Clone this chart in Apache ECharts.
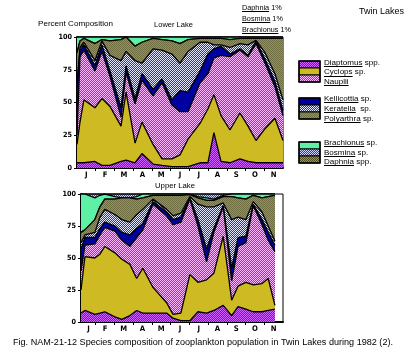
<!DOCTYPE html>
<html lang="en">
<head>
    <meta charset="UTF-8">
    <title>Twin Lakes zooplankton composition</title>
    <script src="https://cdn.jsdelivr.net/npm/echarts@6/dist/echarts.min.js"></script>
    <style>
        html, body { margin: 0; padding: 0; background: #fff; }
        #main { width: 416px; height: 354px; }
    </style>
</head>
<body>
<div id="main"></div>
<script>
// sampling dates in months (0 = 1 Jan, 11 = end of Nov), percent of each group
var monthLetters = ['J', 'F', 'M', 'A', 'M', 'J', 'J', 'A', 'S', 'O', 'N'];

var lowerMonths      = [0, 0.16, 0.37, 0.96, 1.33, 1.76, 2.35, 2.62, 3.10, 3.47, 4.06, 4.54, 5.07, 5.50, 5.93, 6.57, 6.99, 7.31, 7.69, 8.17, 8.70, 9.13, 9.56, 10.04, 10.57, 11.0];
var lowerDiaptomus   = [4, 4, 4, 5, 2, 2, 5, 6, 4, 11, 3, 2, 1, 1, 1, 4, 4, 27, 5, 4, 7, 5, 4, 4, 4, 4];
var lowerCyclops     = [14, 31, 48, 41, 51, 45, 27, 52, 15, 24, 15, 5, 6, 9, 21, 30, 41, 29, 35, 25, 35, 27, 17, 26, 34, 17];
var lowerNauplii     = [7, 50, 38, 28, 36, 23, 7, 15, 30, 32, 37, 58, 41, 33, 21, 31, 27, 28, 46, 56, 48, 53, 74, 50, 24, 19];
var lowerKellicottia = [37, 5, 4, 4, 5, 4, 7, 5, 4, 5, 5, 3, 4, 16, 15, 9, 15, 7, 7, 2, 1, 1, 2, 3, 4, 4];
var lowerKeratella   = [2, 2, 2, 4, 3, 12, 36, 11, 29, 8, 31, 22, 35, 21, 31, 22, 9, 3, 1, 5, 4, 8, 0.5, 5, 6, 8];
var lowerPolyarthra  = [24, 5, 3, 13, 1, 11, 16, 11, 11, 16, 8, 8, 10, 15, 9, 3, 3, 5, 5, 6, 4, 5, 1.5, 11, 27, 47];
var lowerDaphnia     = [0, 0, 0, 0, 0, 0, 0, 0, 0, 0, 0, 0, 0, 0, 0, 0, 0, 0, 0, 0, 0, 0, 0, 0, 0, 0];
var lowerBrachionus  = [12, 3, 1, 5, 2, 3, 2, 0, 7, 4, 1, 2, 3, 5, 2, 1, 1, 1, 1, 2, 1, 1, 1, 1, 1, 1];
var lowerBosmina     = [0, 0, 0, 0, 0, 0, 0, 0, 0, 0, 0, 0, 0, 0, 0, 0, 0, 0, 0, 0, 0, 0, 0, 0, 0, 0];

var upperMonths      = [0.22, 0.43, 0.96, 1.23, 1.49, 2.03, 2.40, 2.83, 3.19, 3.52, 4.06, 4.79, 5.13, 5.55, 6.03, 6.46, 6.92, 7.31, 7.81, 8.26, 8.60, 9.02, 9.41, 9.88, 10.21, 10.57];
var upperDiaptomus   = [7, 9, 6, 7, 8, 4, 2, 5, 9, 7, 7, 7, 3, 1, 1, 8, 7, 9, 13, 5, 12, 10, 8, 8, 9, 10];
var upperCyclops     = [18, 42, 44, 46, 51, 50, 47, 40, 25, 35, 20, 8, 3, 6, 36, 23, 26, 29, 54, 12, 16, 21, 21, 22, 25, 3];
var upperNauplii     = [15, 9, 11, 15, 15, 17, 15, 14, 32, 30, 65, 68, 70, 71, 59, 44, 14, 32, 23, 15, 31, 31, 62, 46, 30, 42];
var upperKellicottia = [17, 6, 5, 5, 4, 4, 6, 9, 7, 5, 2, 3, 4, 4, 1, 5, 10, 3, 1, 10, 7, 5, 1, 4, 6, 5];
var upperKeratella   = [5, 2, 4, 9, 10, 9, 10, 10, 11, 11, 2, 2, 3, 3, 1, 12, 33, 17, 2, 38, 16, 13, 2, 6, 5, 3];
var upperPolyarthra  = [8, 4, 10, 8, 8, 12, 17, 19, 12, 9, 3, 11, 16, 14, 1.5, 5, 5, 5, 5, 18, 15, 16, 5, 11, 23, 36];
var upperDaphnia     = [0, 0, 0, 0, 0, 0, 0, 0, 0, 0, 0, 0, 0, 0, 0, 0, 0, 0, 0, 0, 0, 0, 0, 0, 0, 0];
var upperBrachionus  = [30, 28, 17, 9, 4, 2, 0, 0, 2, 3, 1, 1, 1, 1, 0.5, 1, 2, 1, 1, 2, 3, 4, 1, 3, 2, 1];
var upperBosmina     = [0, 0, 3, 1, 0, 2, 3, 3, 2, 0, 0, 0, 0, 0, 0, 2, 3, 4, 1, 0, 0, 0, 0, 0, 0, 0];

// dithered fills like the old bitmap figure
function checker(a, b) {
    var c = document.createElement('canvas');
    c.width = 2; c.height = 2;
    var g = c.getContext('2d');
    g.fillStyle = a; g.fillRect(0, 0, 2, 2);
    g.fillStyle = b; g.fillRect(0, 0, 1, 1); g.fillRect(1, 1, 1, 1);
    return { image: c, repeat: 'repeat' };
}
var fills = {
    Diaptomus: checker('#6a10ff', '#d060ff'),
    Cyclops: checker('#98d050', '#ccb820'),
    Nauplii: checker('#d010d0', '#ffb8ff'),
    Kellicottia: '#0000a0',
    Keratella: checker('#1830f0', '#e4e8ff'),
    Polyarthra: checker('#8c8c8c', '#6e6e40'),
    Daphnia: checker('#a89828', '#504c18'),
    Brachionus: '#5ef0a5',
    Bosmina: checker('#3030f0', '#d0d0ff')
};

var FAM = '"Liberation Sans", Arial, sans-serif';
var NARROW = '"Liberation Sans Narrow", "DejaVu Sans Condensed", sans-serif';
var ctx = document.createElement('canvas').getContext('2d');
function textWidth(text, font) { ctx.font = font; return ctx.measureText(text).width; }
function fitSize(text, width, family, weight) {
    return 100 * width / textWidth(text, (weight || 'normal') + ' 100px ' + family);
}

var axisSize = fitSize('100', 13.5, NARROW, 'bold');

function makeX(gi, min, labelValues) {
    return {
        type: 'value', gridIndex: gi, min: min, max: 11,
        axisLine: { show: true, onZero: false, lineStyle: { color: '#000', width: 2 } },
        axisTick: { show: true, customValues: [1, 2, 3, 4, 5, 6, 7, 8, 9, 10], length: 3, lineStyle: { color: '#000' } },
        axisLabel: {
            customValues: labelValues, margin: 3, color: '#000',
            fontFamily: NARROW, fontWeight: 'bold', fontSize: axisSize + 0.5,
            formatter: function (v) { return monthLetters[Math.floor(v)]; }
        },
        splitLine: { show: false }
    };
}
function makeY(gi) {
    return {
        type: 'value', gridIndex: gi, min: 0, max: 100, interval: 25,
        axisLine: { show: true, lineStyle: { color: '#000', width: 2 } },
        axisTick: { show: true, length: 3, lineStyle: { color: '#000' } },
        axisLabel: { margin: 5, color: '#000', fontFamily: NARROW, fontWeight: 'bold', fontSize: axisSize },
        splitLine: { show: false }
    };
}

// cumulative layers: each layer is filled down to 0, upper layers drawn first
function lakeSeries(gi, months, groups) {
    var running = months.map(function () { return 0; });
    var out = groups.map(function (g, k) {
        running = running.map(function (r, i) { return r + g[1][i]; });
        var tops = running.slice();
        return {
            name: g[0], type: 'line',
            xAxisIndex: gi, yAxisIndex: gi,
            symbol: 'none', silent: true, z: 2 + groups.length - k,
            lineStyle: { color: '#000', width: 1.3 },
            areaStyle: { color: fills[g[0]], opacity: 1, origin: 'start' },
            data: months.map(function (m, i) { return [m, Math.min(tops[i], 100)]; })
        };
    });
    return out.reverse();
}

var series = lakeSeries(0, lowerMonths, [
    ['Diaptomus', lowerDiaptomus], ['Cyclops', lowerCyclops], ['Nauplii', lowerNauplii],
    ['Kellicottia', lowerKellicottia], ['Keratella', lowerKeratella], ['Polyarthra', lowerPolyarthra],
    ['Daphnia', lowerDaphnia], ['Brachionus', lowerBrachionus], ['Bosmina', lowerBosmina]
]).concat(lakeSeries(1, upperMonths, [
    ['Diaptomus', upperDiaptomus], ['Cyclops', upperCyclops], ['Nauplii', upperNauplii],
    ['Kellicottia', upperKellicottia], ['Keratella', upperKeratella], ['Polyarthra', upperPolyarthra],
    ['Daphnia', upperDaphnia], ['Brachionus', upperBrachionus], ['Bosmina', upperBosmina]
]));

// texts, underlines and legend boxes
var graphics = [];
function addText(x, y, text, size, family, underlined) {
    var font = size.toFixed(2) + 'px ' + family;
    graphics.push({ type: 'text', x: x, y: y, silent: true,
        style: { text: text, font: font, fill: '#000', align: 'left', verticalAlign: 'middle' } });
    if (underlined) {
        var w = textWidth(underlined, font);
        var uy = Math.round(y + size * 0.42) + 0.5;
        graphics.push({ type: 'line', silent: true, shape: { x1: x, y1: uy, x2: x + w, y2: uy },
            style: { stroke: '#000', lineWidth: 1 } });
    }
}
function legendBox(x, y, names, textY, size) {
    names.forEach(function (n, i) {
        graphics.push({ type: 'rect', silent: true, shape: { x: x, y: y + i * 7, width: 21, height: 7 },
            style: { fill: fills[n[0]], stroke: '#000', lineWidth: 1 } });
        addText(x + 25, textY + i * 9.7, n[0] + n[1], size, FAM, n[0]);
    });
    graphics.push({ type: 'rect', silent: true, shape: { x: x, y: y, width: 21, height: 21 },
        style: { fill: 'none', stroke: '#000', lineWidth: 1.5 } });
}

var legendSize = fitSize('Diaptomus spp.', 56, FAM);
legendBox(299, 61, [['Diaptomus', ' spp.'], ['Cyclops', ' sp.'], ['Nauplii', '']], 62.5, legendSize);
legendBox(299, 98, [['Kellicottia', ' sp.'], ['Keratella', '  sp.'], ['Polyarthra', ' sp.']], 99, legendSize);
legendBox(299, 142, [['Brachionus', ' sp.'], ['Bosmina', ' sp.'], ['Daphnia', ' spp.']], 142.7, legendSize);

var noteSize = fitSize('Brachionus 1%', 49, FAM);
addText(242, 8, 'Daphnia 1%', noteSize, FAM, 'Daphnia');
addText(242, 19, 'Bosmina 1%', noteSize, FAM, 'Bosmina');
addText(242, 30, 'Brachionus 1%', noteSize, FAM, 'Brachionus');

addText(359, 12, 'Twin Lakes', fitSize('Twin Lakes', 45, FAM), FAM);
addText(38, 24, 'Percent Composition', fitSize('Percent Composition', 75, FAM), FAM);
addText(154, 25, 'Lower Lake', fitSize('Lower Lake', 39, FAM), FAM);
addText(155, 186, 'Upper Lake', fitSize('Upper Lake', 40, FAM), FAM);
var caption = 'Fig. NAM-21-12 Species composition of zooplankton population in Twin Lakes during 1982 (2).';
addText(13, 342, caption, fitSize(caption, 380, FAM), FAM);

var chart = echarts.init(document.getElementById('main'), null, { renderer: 'canvas' });
chart.setOption({
    animation: false,
    backgroundColor: '#fff',
    grid: [
        { left: 77, top: 37, width: 206, height: 131, show: true, borderColor: '#000', borderWidth: 1, backgroundColor: '#fff' },
        { left: 81, top: 194, width: 202, height: 128, show: true, borderColor: '#000', borderWidth: 1, backgroundColor: '#fff' }
    ],
    xAxis: [
        makeX(0, 0, [0.5, 1.5, 2.5, 3.5, 4.5, 5.5, 6.5, 7.5, 8.5, 9.5, 10.5]),
        makeX(1, 0.22, [0.62, 1.5, 2.5, 3.5, 4.5, 5.5, 6.5, 7.5, 8.5, 9.5, 10.5])
    ],
    yAxis: [makeY(0), makeY(1)],
    series: series,
    graphic: graphics
});
</script>
</body>
</html>
